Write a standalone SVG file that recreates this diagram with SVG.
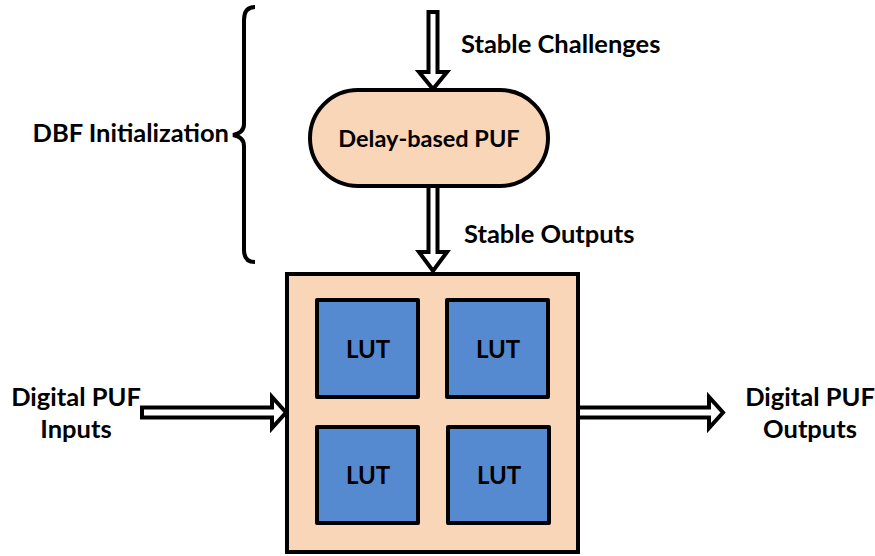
<svg xmlns="http://www.w3.org/2000/svg" width="875" height="556" viewBox="0 0 875 556">
  <style>
    .lbl { font-family: Lato, "Open Sans", "Liberation Sans", sans-serif; font-weight: 700; font-size: 25.5px; fill: #000; }
    .lutlbl { font-size: 24px; }
    .pufl { font-size: 23.5px; }
    .mid { text-anchor: middle; }
    .peach { fill: #FAD6B8; stroke: #000; stroke-width: 4; }
    .lut { fill: #5589D0; stroke: #000; stroke-width: 4; stroke-linejoin: round; }
    .blk { fill: #fff; stroke: #000; stroke-width: 4; stroke-linejoin: miter; }
  </style>
  <rect width="875" height="556" fill="#fff"/>

  <!-- brace grouping the initialization stage -->
  <g id="dbf-init">
    <path d="M 255,7 Q 244,7 244,20 L 244,124 Q 244,133 233,135 Q 244,137 244,146 L 244,250 Q 244,262 255,262" fill="none" stroke="#000" stroke-width="4"/>
    <text class="lbl" x="229" y="142" text-anchor="end">DBF Initialization</text>
  </g>

  <g id="delay-puf">
    <rect class="peach" x="310" y="90" width="238" height="96" rx="48" ry="48"/>
    <text class="lbl pufl mid" x="429" y="147">Delay-based PUF</text>
  </g>

  <g id="digital-puf">
    <rect class="peach" x="287" y="274" width="291" height="278"/>
    <g id="lut-1">
      <rect class="lut" x="317" y="300" width="101" height="97"/>
      <text class="lbl lutlbl mid" x="368" y="358">LUT</text>
    </g>
    <g id="lut-2">
      <rect class="lut" x="447" y="300" width="101" height="97"/>
      <text class="lbl lutlbl mid" x="498" y="358">LUT</text>
    </g>
    <g id="lut-3">
      <rect class="lut" x="317" y="427" width="101" height="96"/>
      <text class="lbl lutlbl mid" x="368" y="484">LUT</text>
    </g>
    <g id="lut-4">
      <rect class="lut" x="448" y="427" width="101" height="96"/>
      <text class="lbl lutlbl mid" x="499" y="484">LUT</text>
    </g>
  </g>

  <g id="connectors">
    <!-- stable challenges into the delay PUF -->
    <path class="blk" d="M 428.5,12 L 437.5,12 L 437.5,72 L 447,72 L 433,89 L 419,72 L 428.5,72 Z"/>
    <text class="lbl" x="461" y="53">Stable Challenges</text>
    <!-- stable outputs into the digital PUF -->
    <path class="blk" d="M 428.5,186 L 437.5,186 L 437.5,252 L 447,252 L 433,271 L 419,252 L 428.5,252 Z"/>
    <text class="lbl" x="464" y="243">Stable Outputs</text>
    <!-- inputs -->
    <path class="blk" d="M 142,407.5 L 272,407.5 L 272,397 L 286,412.5 L 272,428 L 272,417.5 L 142,417.5 Z"/>
    <!-- outputs -->
    <path class="blk" d="M 578,407.5 L 709,407.5 L 709,397 L 723,412.5 L 709,428 L 709,417.5 L 578,417.5 Z"/>
  </g>

  <g id="io-labels">
    <text class="lbl mid" x="76" y="406">Digital PUF</text>
    <text class="lbl mid" x="76" y="438">Inputs</text>
    <text class="lbl mid" x="810" y="406">Digital PUF</text>
    <text class="lbl mid" x="810" y="438">Outputs</text>
  </g>
</svg>
